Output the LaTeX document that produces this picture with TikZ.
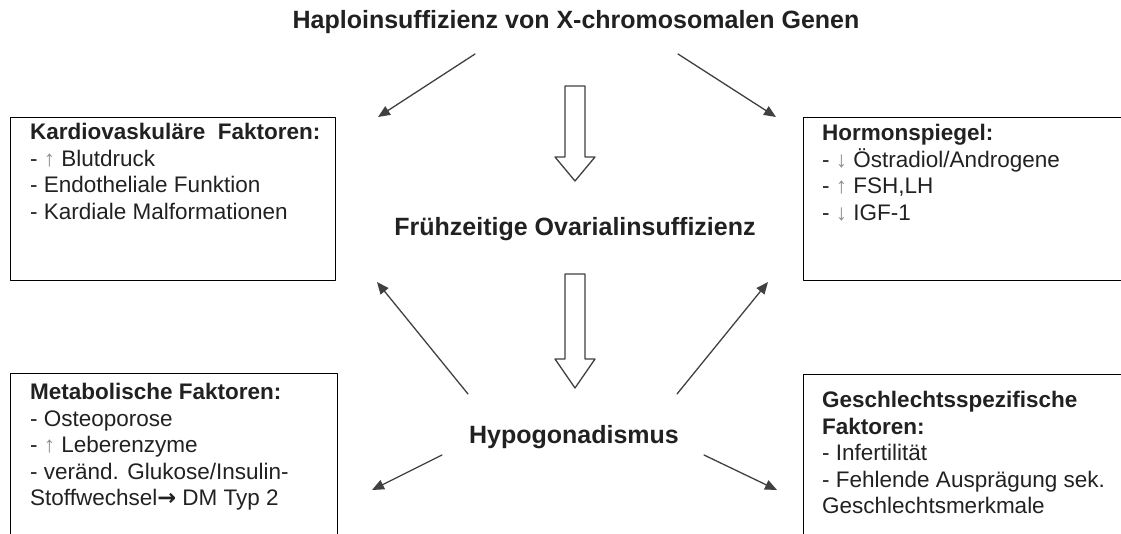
\documentclass[tikz,border=0pt]{standalone}
\usepackage{fontspec}
\setmainfont{Liberation Sans}
\newfontfamily\symfont{DejaVu Sans}
\usepackage{tikz}
\usetikzlibrary{arrows.meta}
\definecolor{sqsqsq}{rgb}{0.13,0.13,0.13}
\definecolor{wvwvwv}{rgb}{0.25,0.25,0.25}
\definecolor{cqcqcq}{rgb}{0.55,0.55,0.55}
\tikzset{
  box/.style={draw=black,line width=1.4pt,anchor=north west,inner sep=0pt},
  boxtext/.style={anchor=north west,inner sep=0pt,align=left,text=sqsqsq,
    font=\fontsize{22.5}{26.5}\selectfont},
  label/.style={text=sqsqsq,font=\fontsize{25}{30}\selectfont\bfseries,inner sep=0pt},
  link/.style={->,color=wvwvwv,line width=1.3pt},
  hollow/.style={draw=wvwvwv,line width=1.3pt,fill=white}
}
\newcommand{\up}{{\color{cqcqcq}↑}}
\newcommand{\down}{{\color{cqcqcq}↓}}
\newcommand{\thento}{{\symfont\bfseries →}}
\begin{document}
\begin{tikzpicture}[line cap=round,line join=round,>={Triangle[length=12pt,width=10pt]},x=1pt,y=-1pt]
\useasboundingbox (0,0) rectangle (1121,533);
\clip (0,0) rectangle (1121,533);
% titles
\node[label] (haplo) at (576,22) {Haploinsuffizienz von X-chromosomalen Genen};
\node[label] (ovar) at (575,229) {Frühzeitige Ovarialinsuffizienz};
\node[label] (hypo) at (574,437) {Hypogonadismus};
% boxes
\node[box,minimum width=325pt,minimum height=163pt] (kardio) at (10,117) {};
\node[box,minimum width=340pt,minimum height=163pt] (hormon) at (803,117) {};
\node[box,minimum width=327pt,minimum height=200pt] (metab) at (10,373) {};
\node[box,minimum width=340pt,minimum height=200pt] (geschl) at (803,374) {};
\node[boxtext] (kardiotxt) at (30,123) {\textbf{Kardiovaskuläre\ \ Faktoren:}\\- \up{} Blutdruck\\- Endotheliale Funktion\\- Kardiale Malformationen};
\node[boxtext] (hormontxt) at (822,124) {\textbf{Hormonspiegel:}\\- \down{} Östradiol/Androgene\\- \up{} FSH,LH\\- \down{} IGF-1};
\node[boxtext] (metabtxt) at (30,383) {\textbf{Metabolische\ Faktoren:}\\- Osteoporose\\- \up{} Leberenzyme\\- veränd. Glukose/Insulin-\\Stoffwechsel\thento{} DM Typ 2};
\node[boxtext] (geschltxt) at (822,391) {\textbf{Geschlechtsspezifische}\\\textbf{Faktoren:}\\- Infertilität\\- Fehlende Ausprägung sek.\\Geschlechtsmerkmale};
% arrow ends
\coordinate (a1) at (475,54);
\coordinate (b1) at (378,117);
\coordinate (a2) at (678,54);
\coordinate (b2) at (776,117);
\coordinate (a3) at (468,394);
\coordinate (b3) at (377,282);
\coordinate (a4) at (677,394);
\coordinate (b4) at (768,282);
\coordinate (a5) at (442,455);
\coordinate (b5) at (372,490);
\coordinate (a6) at (704,455);
\coordinate (b6) at (777,490);
\draw[link] (a1) -- (b1);
\draw[link] (a2) -- (b2);
\draw[link] (a3) -- (b3);
\draw[link] (a4) -- (b4);
\draw[link] (a5) -- (b5);
\draw[link] (a6) -- (b6);
% hollow arrows
\draw[hollow] (565,86) -- (585,86) -- (585,157) -- (595,157) -- (575,181) -- (555,157) -- (565,157) -- cycle;
\draw[hollow] (565,274) -- (585,274) -- (585,359) -- (595,359) -- (575,388) -- (555,359) -- (565,359) -- cycle;
\end{tikzpicture}
\end{document}
